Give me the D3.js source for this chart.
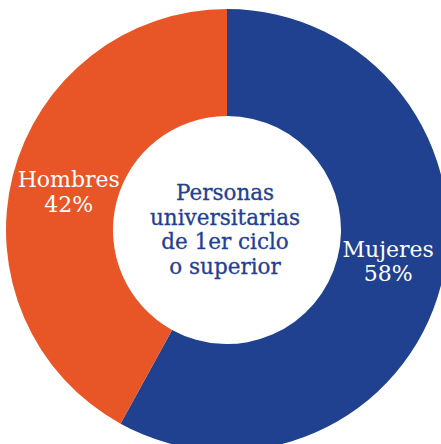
<!DOCTYPE html>
<html>
<head>
<meta charset="utf-8">
<script src="https://cdn.jsdelivr.net/npm/d3@7"></script>
<style>
  body { margin: 0; background: #fff; }
  text { font-family: "DejaVu Serif", serif; }
</style>
</head>
<body>
<script>
var width = 441, height = 444;

// Data
var categories = ["Mujeres", "Hombres"];
var shares = [58, 42];
var colors = ["#1f4190", "#e85628"];
var centerLines = ["Personas", "universitarias", "de 1er ciclo", "o superior"];

var cx = 227, cy = 230, rOuter = 221, rInner = 114;

var svg = d3.select("body").append("svg")
    .attr("width", width)
    .attr("height", height);

var g = svg.append("g")
    .attr("transform", "translate(" + cx + "," + cy + ")");

var pie = d3.pie().sort(null).value(function(d) { return d; });
var arc = d3.arc().innerRadius(rInner).outerRadius(rOuter);

var slices = pie(shares);

g.selectAll("path.slice")
  .data(slices)
  .enter().append("path")
    .attr("class", "slice")
    .attr("fill", function(d, i) { return colors[i]; })
    .attr("d", arc);

// Slice labels (name + percent), nudged off the centroid
var labelShift = { "Mujeres": [-1, -15], "Hombres": [4, -1] };
var labels = g.selectAll("text.lab")
  .data(slices)
  .enter().append("text")
    .attr("class", "lab")
    .attr("fill", "#fff")
    .attr("font-size", 22)
    .attr("text-anchor", "middle")
    .attr("transform", function(d, i) {
      var c = arc.centroid(d), s = labelShift[categories[i]];
      return "translate(" + (c[0] + s[0]) + "," + (c[1] + s[1]) + ")";
    });

labels.append("tspan")
    .attr("x", 0).attr("y", 0)
    .text(function(d, i) { return categories[i]; });
labels.append("tspan")
    .attr("x", 0).attr("y", 24.5)
    .text(function(d) { return d.data + "%"; });

// Centre title
var title = g.append("text")
    .attr("fill", "#1f4190")
    .attr("stroke", "#1f4190")
    .attr("stroke-width", 0.3)
    .attr("font-size", 21.5)
    .attr("text-anchor", "middle");

title.selectAll("tspan")
  .data(centerLines)
  .enter().append("tspan")
    .attr("x", -2)
    .attr("y", function(d, i) { return -30 + i * 24.5; })
    .text(function(d) { return d; });
</script>
</body>
</html>
